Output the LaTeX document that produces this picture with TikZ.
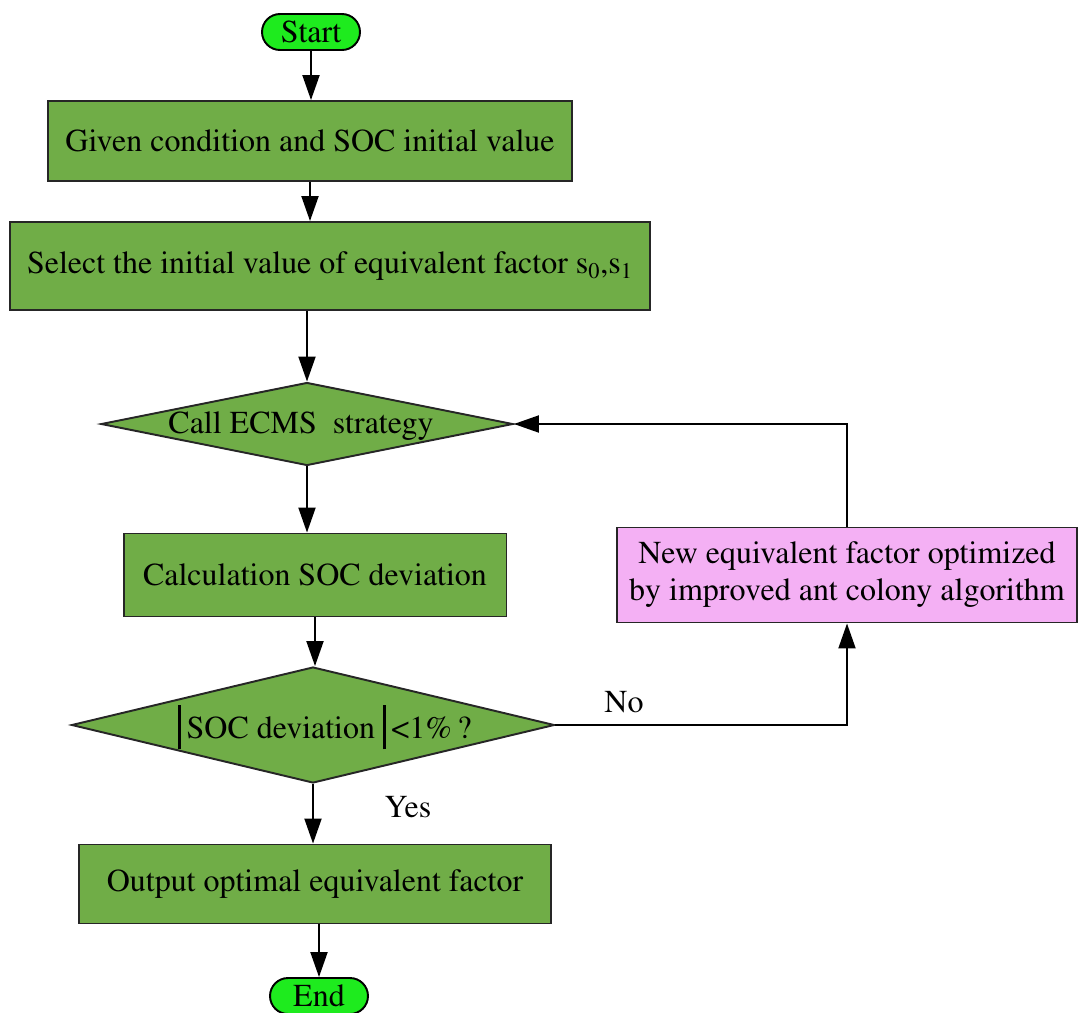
\documentclass[tikz,border=0pt]{standalone}
\usepackage[T1]{fontenc}
\usepackage{times}
\usetikzlibrary{shapes.geometric}
\usetikzlibrary{arrows.meta}
\definecolor{boxgreen}{RGB}{112,173,71}
\definecolor{termgreen}{RGB}{30,235,30}
\definecolor{algopink}{RGB}{244,176,244}
\tikzset{
	termstyle/.style={rectangle,rounded corners=0.36cm,draw=black,line width=1.1pt,fill=termgreen,minimum width=1.96cm,minimum height=0.72cm,inner sep=0pt},
	boxstyle/.style={rectangle,draw=black!85,line width=1.1pt,fill=boxgreen,inner sep=0pt},
	decisionstyle/.style={diamond,draw=black!85,line width=1.1pt,fill=boxgreen,inner sep=0pt},
	algostyle/.style={rectangle,draw=black!85,line width=1.1pt,fill=algopink,inner sep=0pt,align=center},
	arrowstyle/.style={line width=1.1pt,-{Triangle[length=0.5cm,width=0.34cm]}}
}

\begin{document}
\begin{tikzpicture}[x=0.02cm,y=-0.02cm]
	\fontsize{18.2}{21}\selectfont
	\useasboundingbox (0,0) rectangle (1079,1012);
	\node[termstyle] (start) at (311,32) {Start};
	\node[boxstyle,minimum width=10.48cm,minimum height=1.6cm] (given) at (310,141) {Given condition and SOC initial value};
	\node[boxstyle,minimum width=12.82cm,minimum height=1.76cm] (select) at (330,266) {Select the initial value of equivalent factor s\textsubscript{0},s\textsubscript{1}};
	\node[decisionstyle,minimum width=8.24cm,minimum height=1.66cm] (ecms) at (307,424) {};
	\node (ecmstext) at (301,426) {Call ECMS\ \ strategy};
	\node[boxstyle,minimum width=7.66cm,minimum height=1.66cm] (calc) at (315,575) {Calculation SOC deviation};
	\node[decisionstyle,minimum width=9.66cm,minimum height=2.32cm] (dev) at (313,725) {};
	\node (devtext) at (325,727) {\rule[-0.34em]{1.7pt}{1.4em}\,SOC deviation \rule[-0.34em]{1.7pt}{1.4em}\,<1\%\,?};
	\node[boxstyle,minimum width=9.44cm,minimum height=1.58cm] (output) at (315,884) {Output optimal equivalent factor};
	\node[termstyle] (end) at (319,996) {End};
	\node[algostyle,minimum width=9.2cm,minimum height=1.9cm] (new) at (847,575) {New equivalent factor optimized\\by improved ant colony algorithm};
	\node (no) at (624,702) {No};
	\node (yes) at (408,807) {Yes};
	\draw[arrowstyle] (start.south) -- (start.south |- given.north);
	\draw[arrowstyle] (given.south) -- (given.south |- select.north);
	\draw[arrowstyle] (ecms.north |- select.south) -- (ecms.north);
	\draw[arrowstyle] (ecms.south) -- (ecms.south |- calc.north);
	\draw[arrowstyle] (calc.south) -- (calc.south |- dev.north);
	\draw[arrowstyle] (dev.south) -- (dev.south |- output.north);
	\draw[arrowstyle] (end.north |- output.south) -- (end.north);
	\draw[arrowstyle] (dev.east) -| (new.south);
	\draw[arrowstyle] (new.north) |- (ecms.east);
\end{tikzpicture}
\end{document}
